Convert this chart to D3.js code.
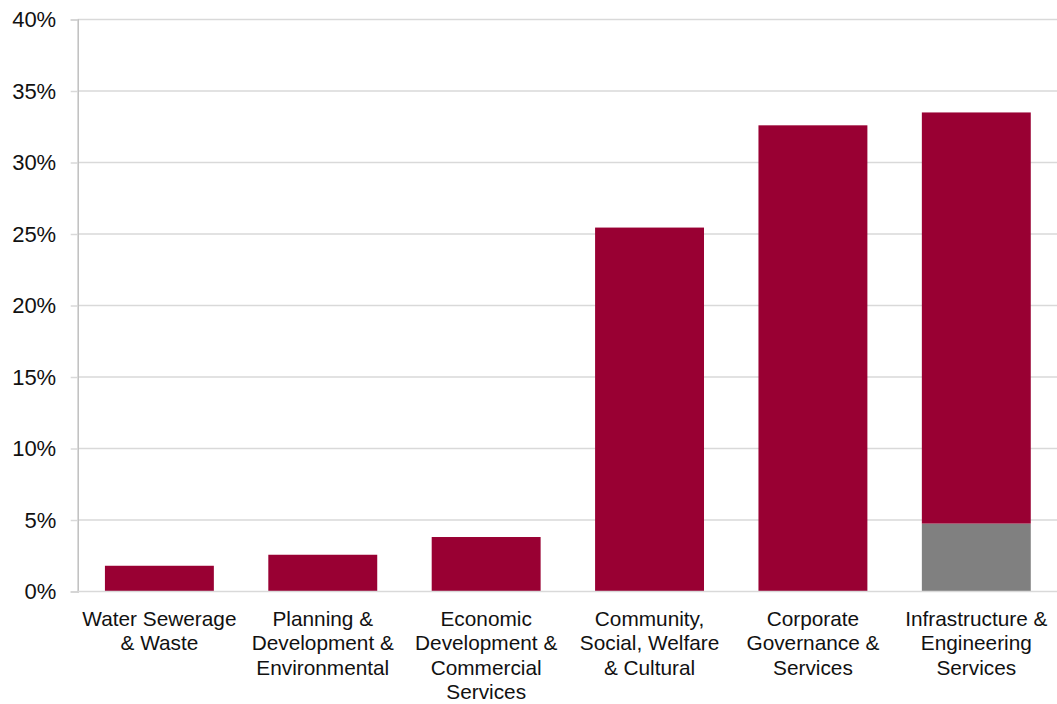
<!DOCTYPE html>
<html><head><meta charset="utf-8">
<script src="https://cdn.jsdelivr.net/npm/d3@7"></script>
<style>body{margin:0;background:#fff}svg{display:block}</style>
</head><body>
<svg id="c" width="1057" height="704"></svg>
<script>
const categories = ["Water Sewerage\n& Waste","Planning &\nDevelopment &\nEnvironmental","Economic\nDevelopment &\nCommercial\nServices","Community,\nSocial, Welfare\n& Cultural","Corporate\nGovernance &\nServices","Infrastructure &\nEngineering\nServices"];
const greyValues = [0, 0, 0, 0, 0, 4.75];
const redValues = [1.8, 2.57, 3.81, 25.45, 32.6, 28.75];
const yTicks = [0,5,10,15,20,25,30,35,40];

(function(){
const svg = d3.select("#c");
const mLeft = 77.7, mRight = 1058, mTop = 19.5, mBottom = 591.5;
const x = d3.scaleBand().domain(categories).range([mLeft, mRight]).paddingInner(1/3).paddingOuter(1/6);
const y = d3.scaleLinear().domain([0,40]).range([mBottom, mTop]);

const data = categories.map((c,i)=>({cat:c, grey:greyValues[i], red:redValues[i]}));
const stack = d3.stack().keys(["grey","red"])(data);
const colors = {grey:"#808080", red:"#990033"};

// gridlines
svg.append("g").selectAll("line").data(yTicks.filter(t=>t>0)).join("line")
  .attr("x1", mLeft).attr("x2", 1057).attr("y1", d=>y(d)).attr("y2", d=>y(d))
  .attr("stroke", "#d9d9d9").attr("stroke-width", 1.5);

// bars
svg.append("g").selectAll("g").data(stack).join("g").attr("fill", d=>colors[d.key])
  .selectAll("rect").data(d=>d).join("rect")
  .attr("x", d=>x(d.data.cat)).attr("width", x.bandwidth())
  .attr("y", d=>y(d[1])).attr("height", d=>y(d[0])-y(d[1]));

// y axis
const yAxis = d3.axisLeft(y).tickValues(yTicks).tickFormat(d=>d+"%").tickSize(7).tickPadding(14.5);
const ya = svg.append("g").attr("transform", `translate(${mLeft},0)`).call(yAxis);
ya.select(".domain").attr("stroke", "#bfbfbf").attr("stroke-width", 1.5);
ya.selectAll(".tick line").attr("stroke", "#d9d9d9").attr("stroke-width", 1.5);
ya.selectAll("text").attr("font-family", "Liberation Sans, Arial, sans-serif").attr("font-size", 22).attr("fill", "#111");

// x axis
const xAxis = d3.axisBottom(x).tickSize(0).tickFormat("");
const xa = svg.append("g").attr("transform", `translate(0,${mBottom})`).call(xAxis);
xa.select(".domain").attr("stroke", "#d9d9d9").attr("stroke-width", 1.5).attr("d", `M${mLeft},0H1057`);
xa.selectAll(".tick").each(function(d){
  const t = d3.select(this).append("text")
    .attr("font-family", "Liberation Sans, Arial, sans-serif").attr("font-size", 20.8)
    .attr("fill", "#111").attr("text-anchor", "middle");
  d.split("\n").forEach((line,i)=>{
    t.append("tspan").attr("x", 0).attr("y", 34.5 + i*24.3).text(line);
  });
});
})();
</script>
</body></html>
